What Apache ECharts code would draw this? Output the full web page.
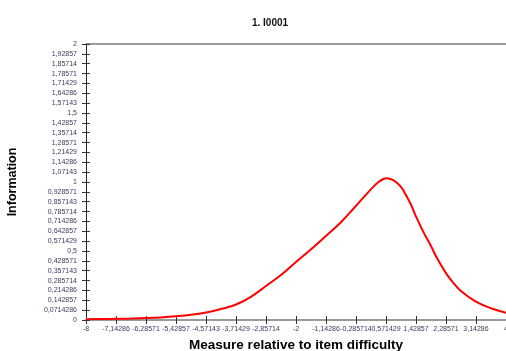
<!DOCTYPE html>
<html>
<head>
<meta charset="utf-8">
<script src="https://cdn.jsdelivr.net/npm/echarts@6/dist/echarts.min.js"></script>
<style>
html,body{margin:0;padding:0;background:#fff;}
#chart{width:506px;height:351px;}
</style>
</head>
<body>
<div id="chart"></div>
<script>
// measure (x) and information (y)
var measure = [-8, -7.57, -7.14, -6.71, -6.29, -5.86, -5.43, -5, -4.57, -4.14, -3.71, -3.29, -2.86, -2.43, -2, -1.57, -1.14, -0.71, -0.29, 0.14, 0.36, 0.57, 0.79, 1, 1.14, 1.29, 1.43, 1.66, 1.86, 2, 2.29, 2.5, 2.71, 3.14, 3.57, 4];
var information = [0.005, 0.007, 0.009, 0.011, 0.014, 0.019, 0.027, 0.038, 0.055, 0.08, 0.112, 0.168, 0.246, 0.326, 0.42, 0.512, 0.61, 0.71, 0.826, 0.947, 1.0, 1.028, 1.012, 0.965, 0.906, 0.833, 0.749, 0.628, 0.535, 0.462, 0.338, 0.268, 0.21, 0.133, 0.085, 0.053];

var xTickLabels = ['-8', '-7,14286', '-6,28571', '-5,42857', '-4,57143', '-3,71429', '-2,85714', '-2', '-1,14286', '-0,285714', '0,571429', '1,42857', '2,28571', '3,14286', '4'];
var yTickLabels = ['0', '0,0714286', '0,142857', '0,214286', '0,285714', '0,357143', '0,428571', '0,5', '0,571429', '0,642857', '0,714286', '0,785714', '0,857143', '0,928571', '1', '1,07143', '1,14286', '1,21429', '1,28571', '1,35714', '1,42857', '1,5', '1,57143', '1,64286', '1,71429', '1,78571', '1,85714', '1,92857', '2'];

var xMin = -8, xMax = 4, xStep = 6 / 7;
var yMin = 0, yMax = 2, yStep = 1 / 14;

var chart = echarts.init(document.getElementById('chart'));
var labelColor = '#3a3a5c';

var pts = measure.map(function (m, i) { return [m, information[i]]; });

var option = {
  animation: false,
  title: {
    text: '1. I0001',
    left: 265,
    top: 13,
    textAlign: 'center',
    textStyle: { fontFamily: 'Liberation Sans, Arial, sans-serif', fontSize: 10, fontWeight: 'bold', color: '#111' }
  },
  grid: { left: 86, right: 0, top: 44, bottom: 31, containLabel: false, outerBoundsMode: 'none' },
  xAxis: [
    {
      type: 'value',
      min: xMin, max: xMax, interval: xStep,
      name: 'Measure relative to item difficulty',
      nameLocation: 'middle',
      nameGap: 17,
      nameTextStyle: { fontFamily: 'Liberation Sans, Arial, sans-serif', fontSize: 13.5, fontWeight: 'bold', color: '#000' },
      axisLine: { show: true, onZero: false, lineStyle: { color: '#9a9a9a', width: 2 } },
      axisTick: { show: true, length: 4, lineStyle: { color: '#333' } },
      axisLabel: {
        margin: 6, fontSize: 7, color: labelColor, fontFamily: 'Liberation Sans, Arial, sans-serif',
        showMinLabel: true, showMaxLabel: true, hideOverlap: false,
        formatter: function (v) { return xTickLabels[Math.round((v - xMin) / xStep)]; }
      },
      splitLine: { show: false }
    },
    {
      type: 'value',
      min: xMin, max: xMax, interval: xStep,
      position: 'bottom',
      axisLine: { show: false, onZero: false },
      axisTick: { show: true, inside: true, length: 4, lineStyle: { color: '#333' } },
      axisLabel: { show: false },
      splitLine: { show: false }
    },
    {
      type: 'value',
      min: xMin, max: xMax,
      position: 'top',
      axisLine: { show: true, onZero: false, lineStyle: { color: '#9a9a9a', width: 2 } },
      axisTick: { show: false },
      axisLabel: { show: false },
      splitLine: { show: false }
    }
  ],
  yAxis: [
    {
      type: 'value',
      min: yMin, max: yMax, interval: yStep,
      name: 'Information',
      nameLocation: 'middle',
      nameGap: 67,
      nameTextStyle: { fontFamily: 'Liberation Sans Narrow, Arial Narrow, Liberation Sans, sans-serif', fontSize: 12.5, fontWeight: 'bold', color: '#000' },
      axisLine: { show: true, onZero: false, lineStyle: { color: '#222', width: 1 } },
      axisTick: { show: true, length: 4, lineStyle: { color: '#333' } },
      axisLabel: {
        margin: 9, fontSize: 7, color: labelColor, fontFamily: 'Liberation Sans, Arial, sans-serif',
        showMinLabel: true, showMaxLabel: true,
        formatter: function (v) { return yTickLabels[Math.round((v - yMin) / yStep)]; }
      },
      splitLine: { show: false }
    },
    {
      type: 'value',
      min: yMin, max: yMax, interval: yStep,
      position: 'left',
      axisLine: { show: false, onZero: false },
      axisTick: { show: true, inside: true, length: 4, lineStyle: { color: '#333' } },
      axisLabel: { show: false },
      splitLine: { show: false }
    }
  ],
  series: [
    {
      type: 'line',
      data: pts,
      smooth: 0.4,
      symbol: 'none',
      clip: true,
      lineStyle: { color: '#ff0000', width: 2 }
    }
  ]
};

chart.setOption(option);
</script>
</body>
</html>
